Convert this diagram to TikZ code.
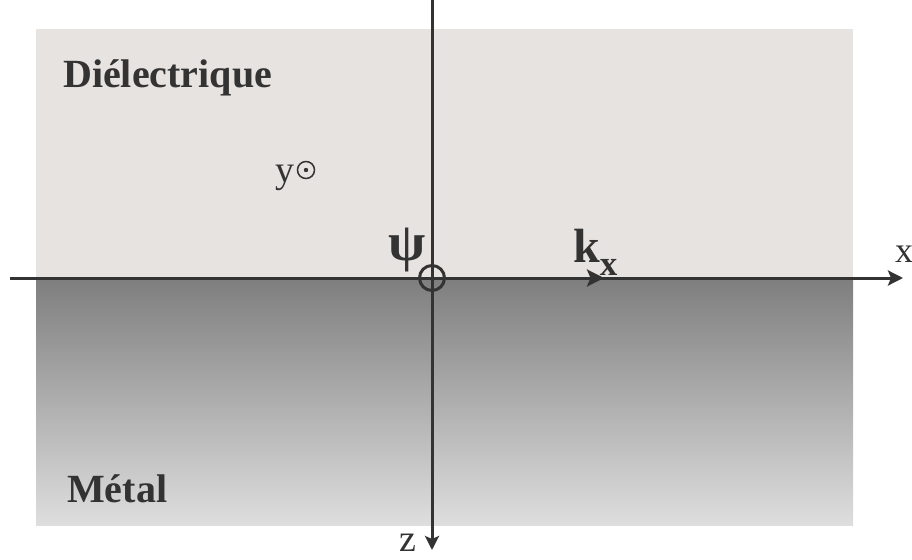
\documentclass[tikz,border=0pt]{standalone}
\usepackage{fontspec}
\setmainfont{Liberation Serif}
\usepackage{tikz}
\usetikzlibrary{positioning,arrows.meta}
\definecolor{ink}{HTML}{333333}
\definecolor{diel}{HTML}{E7E3E0}
\definecolor{metaltop}{HTML}{7E7E7E}
\definecolor{metalbot}{HTML}{DEDEDE}
\newcommand{\fsz}[1]{\fontsize{#1}{#1}\selectfont}

\begin{document}
\begin{tikzpicture}[x=1pt, y=-1pt,
  every node/.style={inner sep=0pt, text=ink},
  axis/.style={draw=ink, line width=3pt, -{Stealth[length=15pt, width=15pt, inset=3pt]}},
  kvec/.style={axis, -{Stealth[length=17pt, width=17pt, inset=3.5pt]}},
  region/.style={font=\fsz{40}\bfseries, anchor=base west},
  axlbl/.style={font=\fsz{36}, anchor=base west}]
\useasboundingbox (0,0) rectangle (912,559);

% ---------------- media ----------------
\fill[diel] (36,29) rectangle (853,278);
\shade[top color=metaltop, bottom color=metalbot] (36,278) rectangle (853,525);
\node[region] (dielec) at (63,88) {Diélectrique};
\node[region] (metal) at (67,502) {Métal};

% ---------------- axes ----------------
\coordinate (xl) at (10,278);
\coordinate (xr) at (903,278);
\coordinate (zt) at (432,0);
\coordinate (zb) at (432,550);
\draw[axis] (xl) -- (xr);
\draw[axis, -{Stealth[length=14pt, width=14pt, inset=3pt]}] (zt) -- (zb);
\node[axlbl] (xlab) at (895,262) {x};
\node[axlbl, font=\fsz{38}] (zlab) at (399,551) {z};

% y axis pointing out of the page
\node[axlbl, font=\fsz{38}] (ylab) at (275,182) {y};
\node[circle, draw=ink, line width=1.5pt, minimum size=17pt] (ydot) at (306,170) {};
\fill[ink] (ydot.center) circle (2.2pt);

% ---------------- field and wave vector ----------------
\node[circle, draw=ink, line width=3pt, minimum size=25pt] (orig) at (432,278) {};
\node[font=\fsz{54}\bfseries] (psi) at (407,250) {ψ};
\coordinate (kend) at (604,278);
\draw[kvec] (orig.center) -- (kend);
\node[anchor=base west, font=\fsz{48}\bfseries] (klab) at (573,262) {k\raisebox{-13pt}{\fsz{35}x}};
\end{tikzpicture}
\end{document}
